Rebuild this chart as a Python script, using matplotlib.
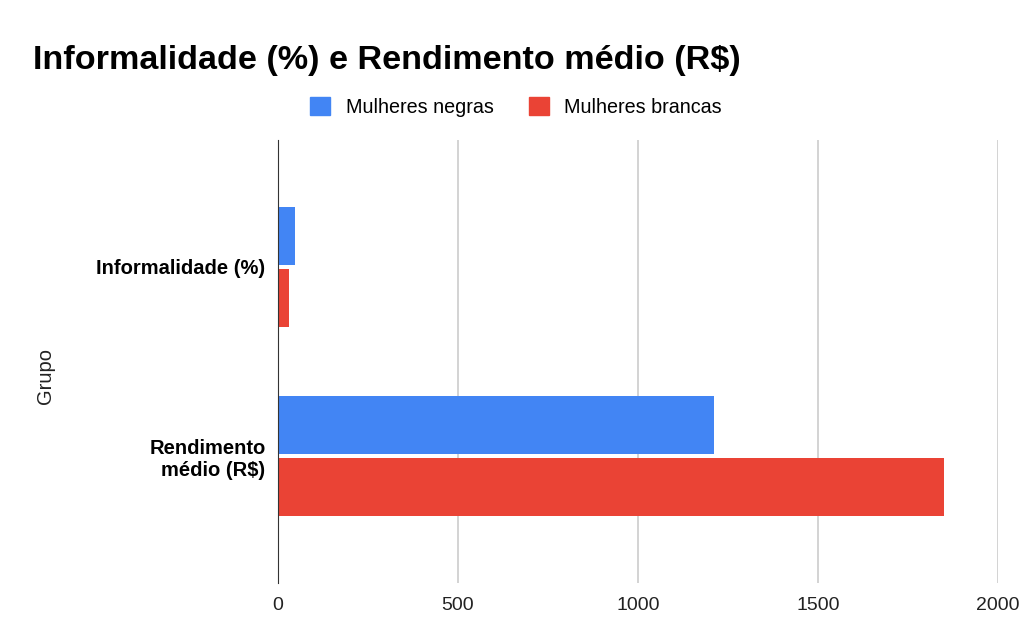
import numpy as np
import matplotlib.pyplot as plt

plt.rcParams['font.family'] = ['Liberation Sans', 'DejaVu Sans']

grupos = ['Informalidade (%)', 'Rendimento\nmédio (R$)']
series = ['Mulheres negras', 'Mulheres brancas']
negras = [47, 1212]
brancas = [31, 1850]
cores = ['#4285f4', '#ea4335']
xticks = [0, 500, 1000, 1500, 2000]

fig = plt.figure(figsize=(10.29, 6.29), dpi=100)
ax = fig.add_axes([278/1029, 46/629, 720/1029, 443/629])

y = np.arange(len(grupos))
h = 0.305
gap = 0.021
for vals, cor, off in [(negras, cores[0], -(h + gap)/2), (brancas, cores[1], (h + gap)/2)]:
    ax.barh(y + off, vals, height=h, color=cor, zorder=3)

ax.set_xlim(0, 2000)
ax.set_ylim(1.67, -0.67)
ax.set_xticks(xticks)
ax.set_xticklabels([str(t) for t in xticks], fontsize=14, color='#222222')
ax.set_yticks(y)
ax.set_yticklabels(grupos, fontsize=14.5, fontweight='bold', color='#000000', linespacing=1.2)
ax.tick_params(axis='y', length=0, pad=9)
ax.tick_params(axis='x', length=0, pad=10)
ax.grid(axis='x', color='#cccccc', linewidth=1.2, zorder=0)
for s in ['top', 'right', 'bottom']:
    ax.spines[s].set_visible(False)
ax.spines['left'].set_color('#333333')
ax.spines['left'].set_zorder(4)
ax.set_ylabel('Grupo', fontsize=14.5, color='#222222', va='center')
ax.yaxis.set_label_coords(-(278 - 45)/720, (583 - 376)/443)

fig.text(33/1029, 1 - 60/629, 'Informalidade (%) e Rendimento médio (R$)',
         fontsize=24.6, fontweight='bold', va='center', ha='left', color='#000000')

handles = [plt.Rectangle((0, 0), 1, 1, color=c) for c in cores]
fig.legend(handles, series, loc='center', bbox_to_anchor=(516/1029, 1 - 107/629),
           ncol=2, frameon=False, fontsize=14.2, handlelength=1.0, handleheight=1.0,
           columnspacing=1.8, handletextpad=0.8)

fig.savefig('out.png', dpi=100, facecolor='white')
